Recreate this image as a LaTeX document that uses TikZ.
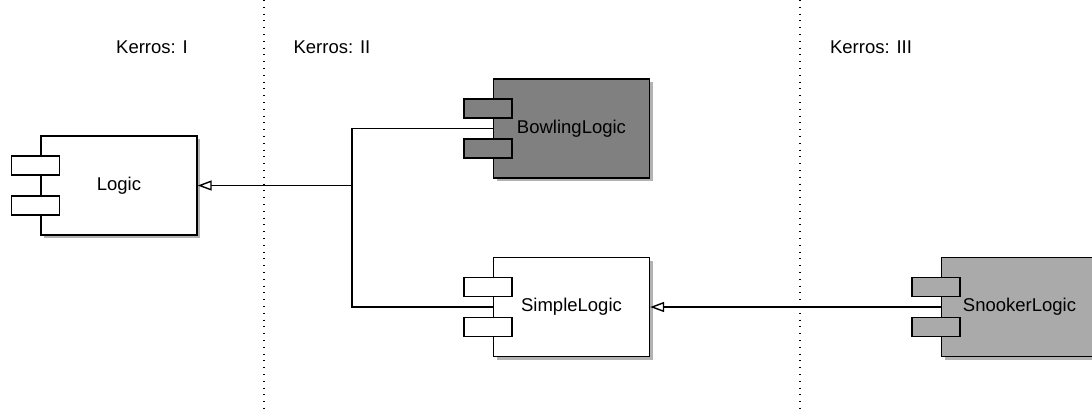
\documentclass[tikz,border=0pt]{standalone}
\usepackage{fontspec}
\setmainfont{Liberation Sans}
\usetikzlibrary{arrows.meta,shadows}
\definecolor{darkfill}{HTML}{808080}
\definecolor{lightfill}{HTML}{AAAAAA}
\tikzset{
  comp/.style={draw, line width=0.65pt, fill=white, minimum width=78pt, minimum height=49.5pt,
    inner sep=0pt, font=\fontsize{9.25}{11}\selectfont,
    drop shadow={shadow xshift=1.5pt, shadow yshift=-1.5pt, fill=black, opacity=0.3}},
  tab/.style={draw, line width=0.65pt, fill=white, minimum width=24pt, minimum height=9.5pt, inner sep=0pt},
  layer/.style={line width=0.55pt, dash pattern=on 0.5pt off 2.9pt},
  lbl/.style={font=\fontsize{9.25}{11}\selectfont},
  conn/.style={line width=0.7pt},
  gen/.style={conn, -{Triangle[open, length=7pt, width=5pt, line width=0.7pt]}}
}
\begin{document}
\begin{tikzpicture}[x=0.5pt, y=-0.5pt]
\useasboundingbox (0,0) rectangle (1092,409);
\clip (0,0) rectangle (1092,409);
% layer separators
\coordinate (s1t) at (264,0); \coordinate (s1b) at (264,409);
\coordinate (s2t) at (800,0); \coordinate (s2b) at (800,409);
\draw[layer] (s1t) -- (s1b);
\draw[layer] (s2t) -- (s2b);
\node[lbl] (k1) at (152,47) {Kerros: I};
\node[lbl] (k2) at (332,47) {Kerros: II};
\node[lbl] (k3) at (871,47) {Kerros: III};
% components
\node[comp] (logic) at (119,185.5) {Logic};
\node[tab] (logicA) at ([xshift=-2.5pt,yshift=10pt]logic.west) {};
\node[tab] (logicB) at ([xshift=-2.5pt,yshift=-10pt]logic.west) {};
\node[comp, fill=darkfill] (bowling) at (571.5,128.5) {BowlingLogic};
\node[tab, fill=darkfill] (bowlingA) at ([xshift=-2.5pt,yshift=10pt]bowling.west) {};
\node[tab, fill=darkfill] (bowlingB) at ([xshift=-2.5pt,yshift=-10pt]bowling.west) {};
\node[comp] (simple) at (571.5,307) {SimpleLogic};
\node[tab] (simpleA) at ([xshift=-2.5pt,yshift=10pt]simple.west) {};
\node[tab] (simpleB) at ([xshift=-2.5pt,yshift=-10pt]simple.west) {};
\node[comp, fill=lightfill] (snooker) at (1019.5,307) {SnookerLogic};
\node[tab, fill=lightfill] (snookerA) at ([xshift=-2.5pt,yshift=10pt]snooker.west) {};
\node[tab, fill=lightfill] (snookerB) at ([xshift=-2.5pt,yshift=-10pt]snooker.west) {};
% connectors
\coordinate (j) at (352,185.5);
\draw[gen] (bowling.west) -| (j) -- (logic.east);
\draw[conn] (simple.west) -| (j);
\draw[gen] (snooker.west) -- (simple.east);
\end{tikzpicture}
\end{document}
